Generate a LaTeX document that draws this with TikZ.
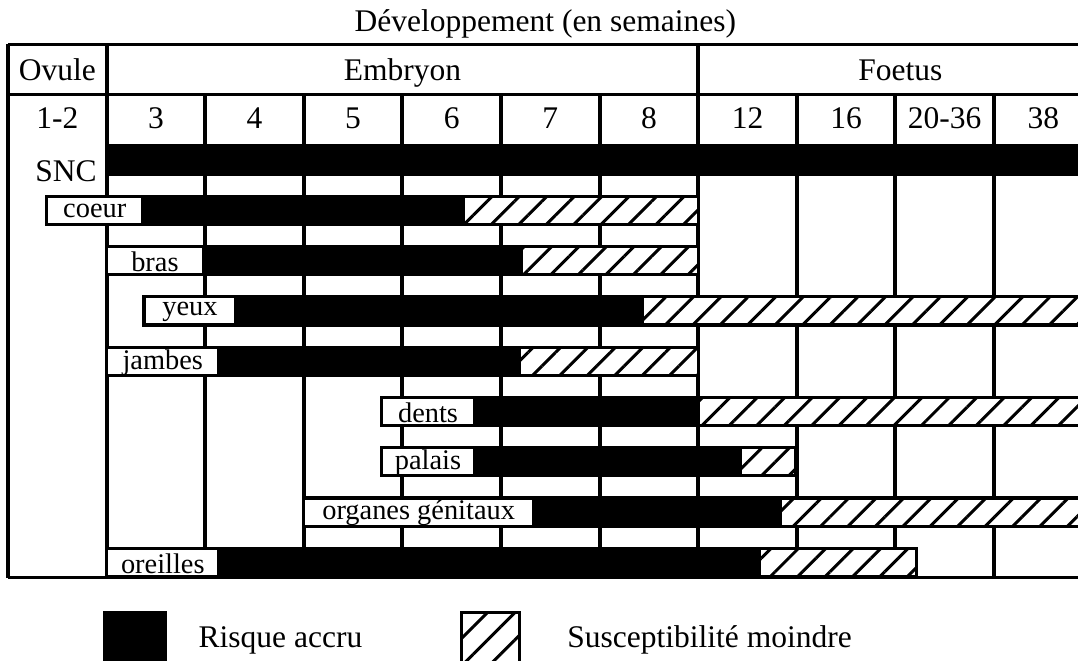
\documentclass[tikz,border=0pt]{standalone}
\usepackage{fontspec}
\setmainfont{Liberation Serif}
\usetikzlibrary{patterns.meta}

\begin{document}
\begin{tikzpicture}[x=49.3pt,y=-25.15pt,
    weekline/.style={line width=2pt},
    headline/.style={line width=1.5pt},
    risk/.style={draw,fill=black,line width=1.6pt},
    lowrisk/.style={draw,line width=1.6pt,preaction={fill=white},
      pattern={Lines[angle=45,distance=9.7pt,line width=1.5pt]}},
    labelbox/.style={draw,fill=white,line width=1.6pt},
    head/.style={font=\fontsize{15.75}{18}\selectfont,inner sep=0pt},
    organ/.style={font=\fontsize{14.2}{17}\selectfont,inner sep=0pt,yshift=-0.5pt}]

        \useasboundingbox (-0.0811,-3.181) rectangle (10.852,9.960);
        \clip (-0.0811,-3.181) rectangle (10.852,9.960);

        % frame and week columns
        \draw[headline] (11,-2.3) -- (0,-2.3);
        \draw[headline] (0,-1.3) -- (11,-1.3);
        \draw[weekline] (0,-2.3) -- (0,8.31);
        \draw[headline] (0,8.31) -- (11,8.31);
        \draw[weekline] (1,-2.3) -- (1,8.31);
        \draw[weekline] (7,-2.3) -- (7,8.31);
        \draw[weekline] (2,-1.3) -- (2,8.31);
        \draw[weekline] (3,-1.3) -- (3,8.31);
        \draw[weekline] (4,-1.3) -- (4,8.31);
        \draw[weekline] (5,-1.3) -- (5,8.31);
        \draw[weekline] (6,-1.3) -- (6,8.31);
        \draw[weekline] (8,-1.3) -- (8,8.31);
        \draw[weekline] (9,-1.3) -- (9,8.31);
        \draw[weekline] (10,-1.3) -- (10,8.31);

        \begin{scope}[every node/.style={head,anchor=base}]
          \node (title)   at (5.45,-2.555) {Développement (en semaines)};
          \node (ovule)   at (0.5,-1.59)   {Ovule};
          \node (embryon) at (4,-1.59)     {Embryon};
          \node (foetus)  at (9.05,-1.59)  {Foetus};
          \node (w1to2)   at (0.5,-0.63)   {1-2};
          \node (w3)      at (1.5,-0.63)   {3};
          \node (w4)      at (2.5,-0.63)   {4};
          \node (w5)      at (3.5,-0.63)   {5};
          \node (w6)      at (4.5,-0.63)   {6};
          \node (w7)      at (5.5,-0.63)   {7};
          \node (w8)      at (6.5,-0.63)   {8};
          \node (w12)     at (7.5,-0.63)   {12};
          \node (w16)     at (8.5,-0.63)   {16};
          \node (w20to36) at (9.5,-0.63)   {20-36};
          \node (w38)     at (10.5,-0.63)  {38};
          \node[anchor=base east] (snc) at (0.903,0.42) {SNC};
        \end{scope}

        % SNC
        \draw[risk] (1,-0.28) rectangle (11,0.28);

        % coeur
        \draw[risk] (1.37,0.72) rectangle (4.62,1.28);
        \draw[lowrisk] (4.62,0.72) rectangle (7,1.28);
        \draw[labelbox] (0.39,0.72) rectangle node[organ] (coeur) {coeur} (1.37,1.28);

        % bras
        \draw[risk] (1.98,1.72) rectangle (5.21,2.28);
        \draw[lowrisk] (5.21,1.72) rectangle (7,2.28);
        \draw[labelbox] (1,1.72) rectangle node[organ] (bras) {bras} (1.98,2.28);

        % yeux
        \draw[risk] (2.31,2.72) rectangle (6.43,3.28);
        \draw[lowrisk] (6.43,2.72) rectangle (11,3.28);
        \draw[labelbox] (1.38,2.72) rectangle node[organ] (yeux) {yeux} (2.31,3.28);

        % jambes
        \draw[risk] (2.14,3.72) rectangle (5.19,4.28);
        \draw[lowrisk] (5.19,3.72) rectangle (7,4.28);
        \draw[labelbox] (1,3.72) rectangle node[organ] (jambes) {jambes} (2.14,4.28);

        % dents
        \draw[risk] (4.73,4.72) rectangle (7,5.28);
        \draw[lowrisk] (7,4.72) rectangle (11,5.28);
        \draw[labelbox] (3.79,4.72) rectangle node[organ] (dents) {dents} (4.73,5.28);

        % palais
        \draw[risk] (4.73,5.72) rectangle (7.43,6.28);
        \draw[lowrisk] (7.43,5.72) rectangle (7.99,6.28);
        \draw[labelbox] (3.79,5.72) rectangle node[organ] (palais) {palais} (4.73,6.28);

        % organes genitaux
        \draw[risk] (5.33,6.72) rectangle (7.83,7.28);
        \draw[lowrisk] (7.83,6.72) rectangle (11,7.28);
        \draw[labelbox] (3,6.72) rectangle node[organ] (organes) {organes génitaux} (5.33,7.28);

        % oreilles
        \draw[risk] (2.14,7.72) rectangle (7.62,8.28);
        \draw[lowrisk] (7.62,7.72) rectangle (9.21,8.28);
        \draw[labelbox] (1,7.72) rectangle node[organ] (oreilles) {oreilles} (2.14,8.28);

        % legend
        \draw[risk] (0.98,8.99) rectangle (1.6,10.2);
        \draw[lowrisk] (4.6,8.99) rectangle (5.19,10.2);
        \node[head,anchor=base west] (risque) at (1.93,9.70) {Risque accru};
        \node[head,anchor=base west] (moindre) at (5.67,9.70) {Susceptibilité moindre};

      \end{tikzpicture}
\end{document}
